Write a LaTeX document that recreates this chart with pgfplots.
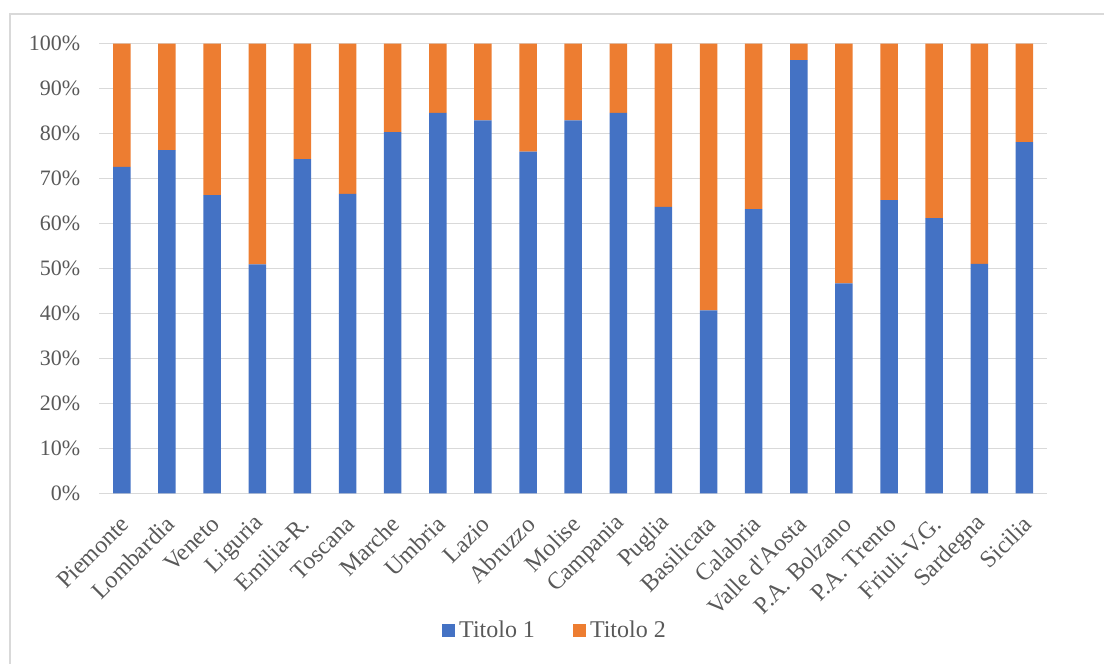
\documentclass[border=0pt]{standalone}
\usepackage{fontspec}
\setmainfont{Liberation Serif}
\usepackage{pgfplots}
\pgfplotsset{compat=1.18}
\definecolor{serieA}{HTML}{4472C4}
\definecolor{serieB}{HTML}{ED7D31}
\definecolor{grigiotesto}{HTML}{595959}
\definecolor{griglia}{HTML}{D9D9D9}

% Quota percentuale per regione: Titolo 1 e Titolo 2 (somma 100)
\pgfplotstableread{
x  t1    t2
0  72.6  27.4
1  76.3  23.7
2  66.3  33.7
3  50.9  49.1
4  74.3  25.7
5  66.6  33.4
6  80.3  19.7
7  84.6  15.4
8  82.9  17.1
9  76.0  24.0
10 82.9  17.1
11 84.6  15.4
12 63.7  36.3
13 40.7  59.3
14 63.2  36.8
15 96.3   3.7
16 46.7  53.3
17 65.2  34.8
18 61.2  38.8
19 51.0  49.0
20 78.1  21.9
}\datitabella

\begin{document}
\begin{tikzpicture}
\path[use as bounding box] (0pt,0pt) rectangle (552pt,332pt);
\draw[griglia, line width=0.75pt] (5pt,-2pt) -- (5pt,325pt) -- (556pt,325pt);
\begin{axis}[
  at={(49.65pt,85.35pt)}, anchor=south west,
  scale only axis, width=473.85pt, height=224.85pt,
  xmin=-0.5, xmax=20.5, ymin=0, ymax=100,
  ybar stacked, bar width=8.75pt,
  axis line style={draw=none},
  major tick length=0pt,
  ymajorgrids, grid style={griglia, line width=0.75pt},
  ytick={0,10,...,100},
  yticklabel={\pgfmathprintnumber[assume math mode=true]{\tick}\%},
  yticklabel style={font=\fontsize{11}{13}\selectfont, text=grigiotesto, xshift=-6pt},
  xtick={0,...,20},
  xticklabels={Piemonte,Lombardia,Veneto,Liguria,Emilia-R.,Toscana,Marche,Umbria,Lazio,Abruzzo,Molise,Campania,Puglia,Basilicata,Calabria,{Valle d\textquotesingle Aosta},P.A. Bolzano,P.A. Trento,Friuli-V.G.,Sardegna,Sicilia},
  xticklabel style={font=\fontsize{12}{14}\selectfont, text=grigiotesto, xshift=4pt, yshift=-11pt, rotate=45, anchor=east},
  legend style={at={(0.4819,-0.306)}, anchor=center, draw=none, fill=none,
    legend columns=2, font=\fontsize{12}{14}\selectfont, text=grigiotesto,
    /tikz/every even column/.append style={column sep=17pt}},
  legend image code/.code={\fill[#1] (0pt,-3.25pt) rectangle (6.5pt,3.25pt);},
]
\addplot[fill=serieA, draw=none] table[x=x, y=t1] {\datitabella};
\addplot[fill=serieB, draw=none] table[x=x, y=t2] {\datitabella};
\legend{Titolo 1, Titolo 2}
\end{axis}
\end{tikzpicture}
\end{document}
